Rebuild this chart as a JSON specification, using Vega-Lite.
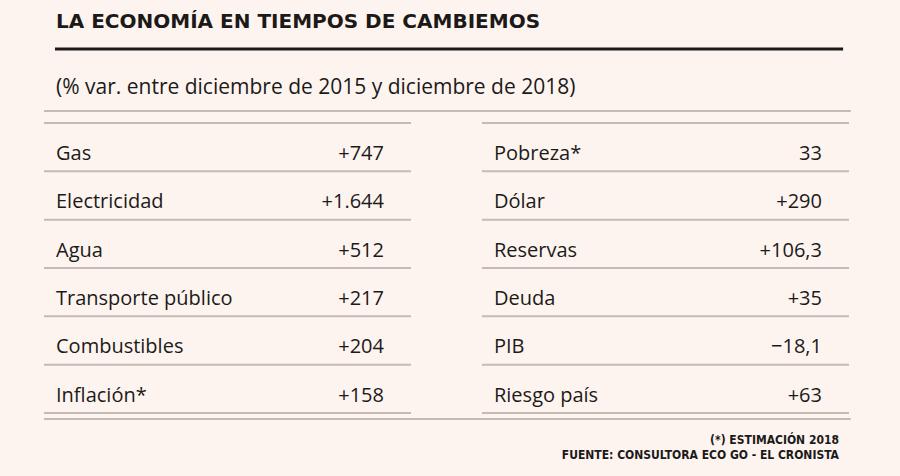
{
  "$schema": "https://vega.github.io/schema/vega-lite/v6.json",
  "width": 900,
  "height": 476,
  "autosize": {"type": "fit", "contains": "padding"},
  "padding": 0,
  "background": "#fdf4ef",
  "config": {
    "view": {"stroke": null},
    "text": {"font": "Open Sans", "color": "#1c1a19"}
  },
  "datasets": {
    "filas": [
      {"columna": "A", "fila": 0, "indicador": "Gas", "variacion": 747, "texto": "+747"},
      {"columna": "A", "fila": 1, "indicador": "Electricidad", "variacion": 1644, "texto": "+1.644"},
      {"columna": "A", "fila": 2, "indicador": "Agua", "variacion": 512, "texto": "+512"},
      {"columna": "A", "fila": 3, "indicador": "Transporte público", "variacion": 217, "texto": "+217"},
      {"columna": "A", "fila": 4, "indicador": "Combustibles", "variacion": 204, "texto": "+204"},
      {"columna": "A", "fila": 5, "indicador": "Inflación*", "variacion": 158, "texto": "+158"},
      {"columna": "B", "fila": 0, "indicador": "Pobreza*", "variacion": 33, "texto": "33"},
      {"columna": "B", "fila": 1, "indicador": "Dólar", "variacion": 290, "texto": "+290"},
      {"columna": "B", "fila": 2, "indicador": "Reservas", "variacion": 106.3, "texto": "+106,3"},
      {"columna": "B", "fila": 3, "indicador": "Deuda", "variacion": 35, "texto": "+35"},
      {"columna": "B", "fila": 4, "indicador": "PIB", "variacion": -18.1, "texto": "−18,1"},
      {"columna": "B", "fila": 5, "indicador": "Riesgo país", "variacion": 63, "texto": "+63"}
    ],
    "encabezado": [
      {
        "titulo": "LA ECONOMÍA EN TIEMPOS DE CAMBIEMOS",
        "subtitulo": "(% var. entre diciembre de 2015 y diciembre de 2018)",
        "nota": "(*) ESTIMACIÓN 2018",
        "fuente": "FUENTE: CONSULTORA ECO GO - EL CRONISTA"
      }
    ]
  },
  "encoding": {
    "y": {
      "type": "quantitative",
      "scale": {"domain": [-2.545, 7.304], "reverse": true, "nice": false, "zero": false},
      "axis": null
    }
  },
  "layer": [
    {
      "data": {"name": "encabezado"},
      "mark": {"type": "text", "align": "left", "baseline": "alphabetic", "fontSize": 20, "fontWeight": "bold", "font": "DejaVu Sans", "dx": 12},
      "encoding": {
        "x": {"datum": "A", "type": "nominal", "bandPosition": 0, "scale": {"type": "band", "domain": ["A", "B"], "paddingInner": 0.1621, "paddingOuter": 0.1085, "align": 0.463}, "axis": null},
        "y": {"datum": -1.966, "type": "quantitative"},
        "text": {"field": "titulo"}
      }
    },
    {
      "data": {"name": "encabezado"},
      "mark": {"type": "rule", "color": "#1c1a19", "strokeWidth": 3},
      "encoding": {
        "x": {"datum": "A", "type": "nominal", "bandPosition": 0.03},
        "x2": {"datum": "B", "bandPosition": 0.984},
        "y": {"datum": -1.531, "type": "quantitative"}
      }
    },
    {
      "data": {"name": "encabezado"},
      "mark": {"type": "text", "align": "left", "baseline": "alphabetic", "fontSize": 21, "dx": 12},
      "encoding": {
        "x": {"datum": "A", "type": "nominal", "bandPosition": 0},
        "y": {"datum": -0.6, "type": "quantitative"},
        "text": {"field": "subtitulo"}
      }
    },
    {
      "data": {"name": "encabezado"},
      "mark": {"type": "rule", "color": "#c4bbb5", "strokeWidth": 2},
      "encoding": {
        "x": {"datum": "A", "type": "nominal", "bandPosition": 0},
        "x2": {"datum": "B", "bandPosition": 1.005},
        "y": {"datum": -0.248, "type": "quantitative"}
      }
    },
    {
      "data": {"name": "encabezado"},
      "mark": {"type": "rule", "color": "#c4bbb5", "strokeWidth": 2},
      "encoding": {
        "x": {"datum": "A", "type": "nominal", "bandPosition": 0},
        "x2": {"datum": "B", "bandPosition": 1.005},
        "y": {"datum": 6.125, "type": "quantitative"}
      }
    },
    {
      "data": {"name": "filas"},
      "mark": {"type": "rule", "color": "#c4bbb5", "strokeWidth": 2},
      "encoding": {
        "x": {"field": "columna", "type": "nominal", "bandPosition": 0},
        "x2": {"field": "columna", "bandPosition": 1},
        "y": {"field": "fila", "type": "quantitative"}
      }
    },
    {
      "data": {"name": "filas"},
      "transform": [{"filter": "datum.fila == 5"}],
      "mark": {"type": "rule", "color": "#c4bbb5", "strokeWidth": 2},
      "encoding": {
        "x": {"field": "columna", "type": "nominal", "bandPosition": 0},
        "x2": {"field": "columna", "bandPosition": 1},
        "y": {"datum": 6, "type": "quantitative"}
      }
    },
    {
      "data": {"name": "filas"},
      "mark": {"type": "text", "align": "left", "baseline": "alphabetic", "fontSize": 20, "dx": 12, "dy": 37},
      "encoding": {
        "x": {"field": "columna", "type": "nominal", "bandPosition": 0},
        "y": {"field": "fila", "type": "quantitative"},
        "text": {"field": "indicador"}
      }
    },
    {
      "data": {"name": "filas"},
      "mark": {"type": "text", "align": "right", "baseline": "alphabetic", "fontSize": 20, "dx": -27, "dy": 37},
      "encoding": {
        "x": {"field": "columna", "type": "nominal", "bandPosition": 1},
        "y": {"field": "fila", "type": "quantitative"},
        "text": {"field": "texto"}
      }
    },
    {
      "data": {"name": "encabezado"},
      "mark": {"type": "text", "align": "right", "baseline": "alphabetic", "fontSize": 12, "fontWeight": "bold", "font": "DejaVu Sans Condensed", "dx": -10},
      "encoding": {
        "x": {"datum": "B", "type": "nominal", "bandPosition": 1},
        "y": {"datum": 6.642, "type": "quantitative"},
        "text": {"field": "nota"}
      }
    },
    {
      "data": {"name": "encabezado"},
      "mark": {"type": "text", "align": "right", "baseline": "alphabetic", "fontSize": 12, "fontWeight": "bold", "font": "DejaVu Sans Condensed", "dx": -10},
      "encoding": {
        "x": {"datum": "B", "type": "nominal", "bandPosition": 1},
        "y": {"datum": 6.952, "type": "quantitative"},
        "text": {"field": "fuente"}
      }
    }
  ]
}
